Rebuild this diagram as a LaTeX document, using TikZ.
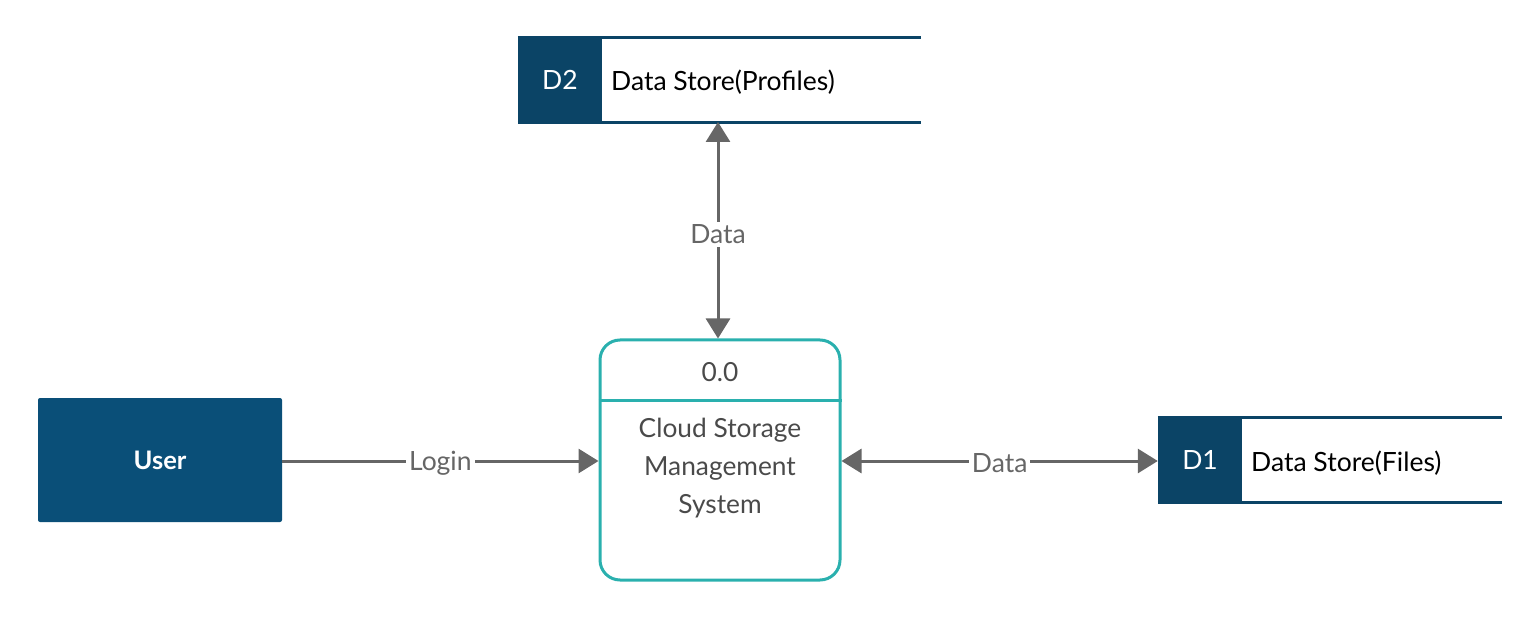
\documentclass[tikz,border=0pt]{standalone}
\usepackage{fontspec}
\setmainfont{Lato}
\usetikzlibrary{arrows.meta}
\definecolor{entblue}{HTML}{0A4F78}
\definecolor{storeblue}{HTML}{0B4466}
\definecolor{procteal}{HTML}{2AB0AE}
\definecolor{arrgray}{HTML}{666666}
\definecolor{proctext}{HTML}{4A4A4A}
\tikzset{
  entity/.style={fill=entblue, rounded corners=2pt, minimum width=244pt, minimum height=124pt, inner sep=0pt, text=white, font=\fontsize{25.5}{30}\selectfont\bfseries},
  storeid/.style={fill=storeblue, minimum width=84pt, minimum height=84pt, inner sep=0pt, text=white, font=\fontsize{26.5}{30}\selectfont},
  storetext/.style={anchor=west, inner sep=0pt, text=black, font=\fontsize{26.5}{30}\selectfont},
  storeline/.style={draw=storeblue, line width=3pt},
  process/.style={draw=procteal, line width=3pt, rounded corners=20pt, minimum width=240pt, minimum height=240pt, inner sep=0pt},
  proctxt/.style={text=proctext, align=center, font=\fontsize{26.3}{38}\selectfont},
  arr/.style={draw=arrgray, line width=3pt, -{Triangle[length=20pt,width=24pt]}},
  darr/.style={draw=arrgray, line width=3pt, {Triangle[length=20pt,width=24pt]}-{Triangle[length=20pt,width=24pt]}},
  lbl/.style={fill=white, text=arrgray, inner sep=3pt, font=\fontsize{26.5}{30}\selectfont}
}
\begin{document}
\begin{tikzpicture}[x=1pt,y=-1pt]
\useasboundingbox (0,0) rectangle (1540,620);
% entity
\node[entity] (user) at (160,460) {\raisebox{-2pt}{User}};
% process
\node[process] (proc) at (720,460) {};
\draw[draw=procteal, line width=3pt] (proc.west |- 0,400) coordinate (divl) -- (proc.east |- 0,400) coordinate (divr);
\node[proctxt] (pnum) at (720,372) {0.0};
\node[proctxt] (pname) at (720,468) {Cloud Storage\\Management\\System};
% D2 store
\node[storeid] (d2id) at (560,80) {D2};
\coordinate (d2r) at (921,80);
\draw[storeline] (d2id.north west) -- (d2id.north west -| d2r);
\draw[storeline] (d2id.south west) -- (d2id.south west -| d2r);
\node[storetext] (d2t) at (611,82) {Data Store(Profiles)};
% D1 store
\node[storeid] (d1id) at (1200,460) {\raisebox{-2pt}{D1}};
\coordinate (d1r) at (1502,460);
\draw[storeline] (d1id.north west) -- (d1id.north west -| d1r);
\draw[storeline] (d1id.south west) -- (d1id.south west -| d1r);
\node[storetext] (d1t) at (1251,463) {Data Store(Files)};
% connectors
\coordinate (d2b) at (718,122);
\draw[darr] (proc.north -| d2b) -- (d2b) node[lbl, pos=0.48] {Data};
\draw[arr] (user.east |- 0,461) -- (proc.west |- 0,461) node[lbl, midway, yshift=-2.5pt] {Login};
\draw[darr] (proc.east |- 0,461) -- (d1id.west |- 0,461) node[lbl, midway, yshift=-2.5pt] {Data};
\end{tikzpicture}
\end{document}
